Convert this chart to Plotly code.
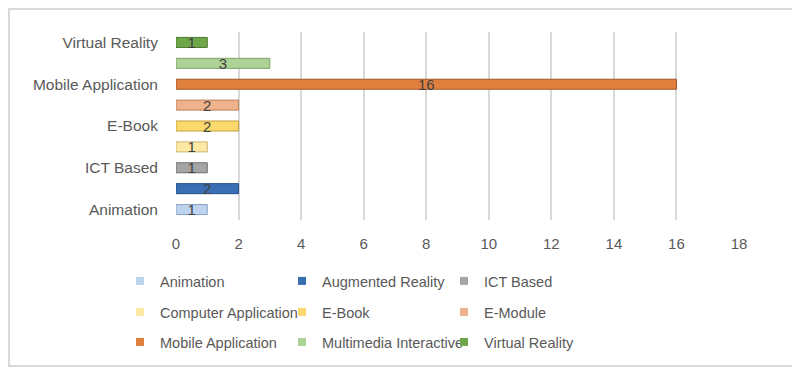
import plotly.graph_objects as go

categories = ["Animation", "Augmented Reality", "ICT Based", "Computer Application",
              "E-Book", "E-Module", "Mobile Application", "Multimedia Interactive",
              "Virtual Reality"]
values = [1, 2, 1, 1, 2, 2, 16, 3, 1]
colors = ["#bdd3ee", "#3a6fb4", "#a5a5a5", "#fde8a4", "#fbd96c", "#efb38b",
          "#e0803f", "#acd295", "#70a64a"]
edge_colors = ["#8aa3c4", "#224f8c", "#6f6f6f", "#c9b574", "#c3a23c", "#b9825e",
               "#a2542a", "#7fa267", "#4c7a2f"]
y_tick_labels = ["Animation", "ICT Based", "E-Book", "Mobile Application", "Virtual Reality"]
x_ticks = list(range(0, 20, 2))

# page has an 8px body margin; figure pixel = page pixel - 8
OFF = 8
W, H = 792, 363
L, R, T, B = 176 - OFF, W - (739 - OFF), 32 - OFF, H - (220 - OFF)
pw, ph = W - L - R, H - T - B
FONT = "Liberation Sans"

fig = go.Figure()
legend_names = ["legend", "legend2", "legend3"]
for i, (cat, v, c, ec) in enumerate(zip(categories, values, colors, edge_colors)):
    fig.add_trace(go.Bar(
        y=[cat], x=[v], orientation="h", name=cat,
        marker=dict(color=c, line=dict(color=ec, width=1)),
        width=0.48, text=[str(v)], textposition="inside", textangle=0,
        insidetextanchor="middle", constraintext="none",
        textfont=dict(color="#404040", size=15, family=FONT),
        showlegend=False, legendgroup=cat, hoverinfo="x+y",
    ))
    fig.add_trace(go.Scatter(
        x=[None], y=[None], mode="markers", name=cat, legendgroup=cat,
        marker=dict(symbol="square", size=8, color=c),
        legend=legend_names[i // 3],
    ))

def px_x(page):
    return (page - OFF - L) / pw

def px_y(page):
    return 1 - (page - OFF - T) / ph

leg_common = dict(orientation="h", xanchor="left", yanchor="middle",
                  font=dict(family=FONT, size=14.5, color="#595959"),
                  entrywidth=117, entrywidthmode="pixels", itemwidth=30,
                  bgcolor="rgba(0,0,0,0)", traceorder="normal")

fig.update_layout(
    width=W, height=H,
    margin=dict(l=L, r=R, t=T, b=B, autoexpand=False),
    paper_bgcolor="white", plot_bgcolor="white",
    barmode="overlay",
    font=dict(family=FONT, size=15, color="#595959"),
    xaxis=dict(range=[0, 18], tickvals=x_ticks, showgrid=True,
               gridcolor="#d9d9d9", gridwidth=1.5, zeroline=False,
               ticks="outside", ticklen=10, tickcolor="rgba(0,0,0,0)",
               tickfont=dict(size=15), showline=False, fixedrange=True),
    yaxis=dict(type="category", categoryorder="array", categoryarray=categories,
               range=[-0.5, 8.5], tickvals=y_tick_labels, showgrid=False,
               ticks="outside", ticklen=14, tickcolor="rgba(0,0,0,0)",
               tickfont=dict(size=15.5), showline=False, fixedrange=True),
    legend=dict(x=px_x(120), y=px_y(281), **leg_common),
    legend2=dict(x=px_x(120), y=px_y(312), **leg_common),
    legend3=dict(x=px_x(120), y=px_y(342), **leg_common),
    shapes=[dict(type="rect", xref="paper", yref="paper",
                 x0=px_x(9), x1=px_x(795), y0=px_y(9), y1=px_y(366),
                 line=dict(color="#d9d9d9", width=2), fillcolor="rgba(0,0,0,0)",
                 layer="below")],
)

fig.write_html("out.html")
